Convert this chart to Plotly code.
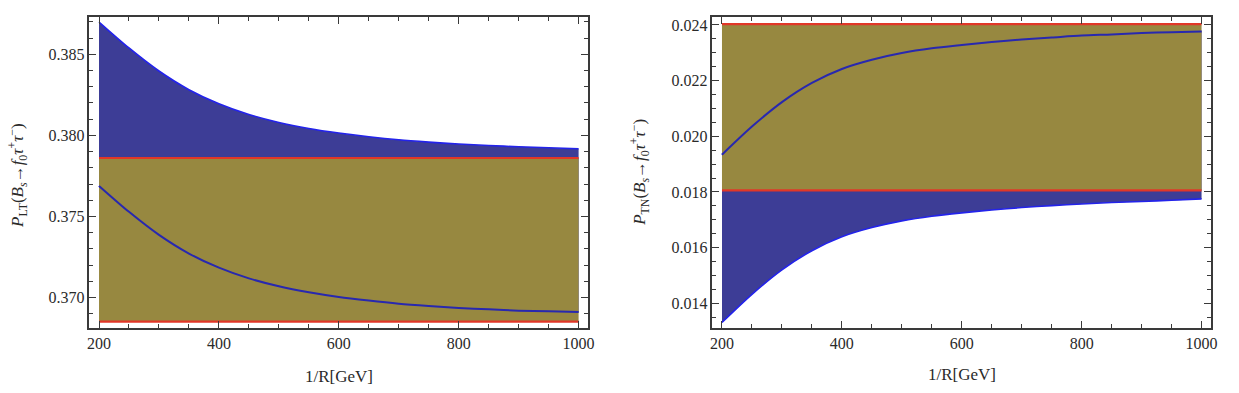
import plotly.graph_objects as go

# ---- data ----
x_vals = [200, 250, 300, 350, 400, 450, 500, 550, 600, 650, 700, 750, 800, 850, 900, 950, 1000]

# left panel: P_LT
lt_upper = [0.38699, 0.38539, 0.38397, 0.38282, 0.38195, 0.38129, 0.38080, 0.38043, 0.38015,
            0.37992, 0.37973, 0.37959, 0.37947, 0.37938, 0.37930, 0.37924, 0.37918]
lt_lower = [0.37689, 0.37529, 0.37387, 0.37272, 0.37185, 0.37119, 0.37070, 0.37033, 0.37004,
            0.36982, 0.36963, 0.36949, 0.36937, 0.36928, 0.36920, 0.36916, 0.36912]
lt_sm = [0.36852, 0.37861]

# right panel: P_TN
tn_upper = [0.01934, 0.02035, 0.02123, 0.02192, 0.02242, 0.02275, 0.02299, 0.02316, 0.02328,
            0.02339, 0.02348, 0.02355, 0.02362, 0.02366, 0.02371, 0.02374, 0.02377]
tn_lower = [0.01331, 0.01432, 0.01520, 0.01589, 0.01639, 0.01672, 0.01696, 0.01713, 0.01725,
            0.01735, 0.01744, 0.01751, 0.01757, 0.01762, 0.01766, 0.01770, 0.01775]
tn_sm = [0.01806, 0.02403]

x_ticks = [200, 400, 600, 800, 1000]
x_tick_labels = ["200", "400", "600", "800", "1000"]

BLUE_FILL = "rgb(61,61,150)"
BLUE_EDGE = "rgb(35,35,235)"
BLUE_LINE = "rgb(40,40,175)"
OLIVE = "rgb(151,136,64)"
RED = "rgb(225,55,40)"
FRAME = "#3a3a3a"
FONT = "Liberation Serif"

fig = go.Figure()


def add_panel(xa, ya, upper, lower, sm, inner):
    common = dict(xaxis=xa, yaxis=ya, showlegend=False, hoverinfo="skip")
    # blue band between the two curves
    fig.add_trace(go.Scatter(
        x=x_vals, y=lower, mode="lines",
        line=dict(color=BLUE_EDGE, width=1.6, shape="spline", smoothing=0.8), **common))
    fig.add_trace(go.Scatter(
        x=x_vals, y=upper, mode="lines", fill="tonexty", fillcolor=BLUE_FILL,
        line=dict(color=BLUE_EDGE, width=1.6, shape="spline", smoothing=0.8), **common))
    # olive SM band
    fig.add_trace(go.Scatter(
        x=[x_vals[0], x_vals[-1]], y=[sm[0], sm[0]], mode="lines",
        line=dict(color=RED, width=0), **common))
    fig.add_trace(go.Scatter(
        x=[x_vals[0], x_vals[-1]], y=[sm[1], sm[1]], mode="lines",
        fill="tonexty", fillcolor=OLIVE, line=dict(color=RED, width=0), **common))
    # curve lying inside the olive band
    fig.add_trace(go.Scatter(
        x=x_vals, y=inner, mode="lines",
        line=dict(color=BLUE_LINE, width=2, shape="spline", smoothing=0.8), **common))
    # red SM boundary lines
    for v in sm:
        fig.add_trace(go.Scatter(
            x=[x_vals[0], x_vals[-1]], y=[v, v], mode="lines",
            line=dict(color=RED, width=2.2), **common))


add_panel("x", "y", lt_upper, lt_lower, lt_sm, lt_lower)
add_panel("x2", "y2", tn_upper, tn_lower, tn_sm, tn_upper)

tickfont = dict(family=FONT, size=16, color="#2a2a2a")


def xaxis_cfg(domain, anchor):
    return dict(domain=domain, anchor=anchor, range=[184, 1016],
                tickvals=x_ticks, ticktext=x_tick_labels,
                ticks="inside", ticklen=7, tickwidth=1.2, tickcolor=FRAME,
                minor=dict(dtick=50, tick0=200, ticks="inside", ticklen=4, tickwidth=1, tickcolor=FRAME),
                showline=True, linecolor=FRAME, linewidth=1.5, mirror="ticks",
                showgrid=False, zeroline=False, tickfont=tickfont)


def yaxis_cfg(domain, anchor, rng, tick0, dtick, mdtick):
    return dict(domain=domain, anchor=anchor, range=rng,
                tick0=tick0, dtick=dtick, tickformat=".3f",
                ticks="inside", ticklen=7, tickwidth=1.2, tickcolor=FRAME,
                minor=dict(dtick=mdtick, ticks="inside", ticklen=4, tickwidth=1, tickcolor=FRAME),
                showline=True, linecolor=FRAME, linewidth=1.5, mirror="ticks",
                showgrid=False, zeroline=False, tickfont=tickfont)


ydom = [1 - 328 / 393, 1 - 17 / 393]
fig.update_layout(
    width=1239, height=393, autosize=False,
    margin=dict(l=0, r=0, t=0, b=0),
    paper_bgcolor="white", plot_bgcolor="white",
    xaxis=xaxis_cfg([88 / 1239, 590 / 1239], "y"),
    yaxis=yaxis_cfg(ydom, "x", [0.36813, 0.38730], 0.370, 0.005, 0.001),
    xaxis2=xaxis_cfg([715 / 1239, 1217 / 1239], "y2"),
    yaxis2=yaxis_cfg(ydom, "x2", [0.013112, 0.024287], 0.014, 0.002, 0.0005),
)

title_font = dict(family=FONT, size=17, color="#2a2a2a")
ann = [
    dict(text="1/R[GeV]", x=339 / 1239, y=1 - 376 / 393, xref="paper", yref="paper",
         showarrow=False, font=title_font, xanchor="center", yanchor="middle"),
    dict(text="1/R[GeV]", x=966 / 1239, y=1 - 374 / 393, xref="paper", yref="paper",
         showarrow=False, font=title_font, xanchor="center", yanchor="middle"),
    dict(text="<i>P</i><sub>LT</sub>(<i>B</i><sub><i>s</i></sub>→<i>f</i><sub>0</sub><i>τ</i><sup>+</sup><i>τ</i><sup>−</sup>)",
         x=15 / 1239, y=1 - 175 / 393, xref="paper", yref="paper", textangle=-90,
         showarrow=False, font=title_font, xanchor="center", yanchor="middle"),
    dict(text="<i>P</i><sub>TN</sub>(<i>B</i><sub><i>s</i></sub>→<i>f</i><sub>0</sub><i>τ</i><sup>+</sup><i>τ</i><sup>−</sup>)",
         x=641 / 1239, y=1 - 172 / 393, xref="paper", yref="paper", textangle=-90,
         showarrow=False, font=title_font, xanchor="center", yanchor="middle"),
]
fig.update_layout(annotations=ann)

fig.write_html("out.html")
